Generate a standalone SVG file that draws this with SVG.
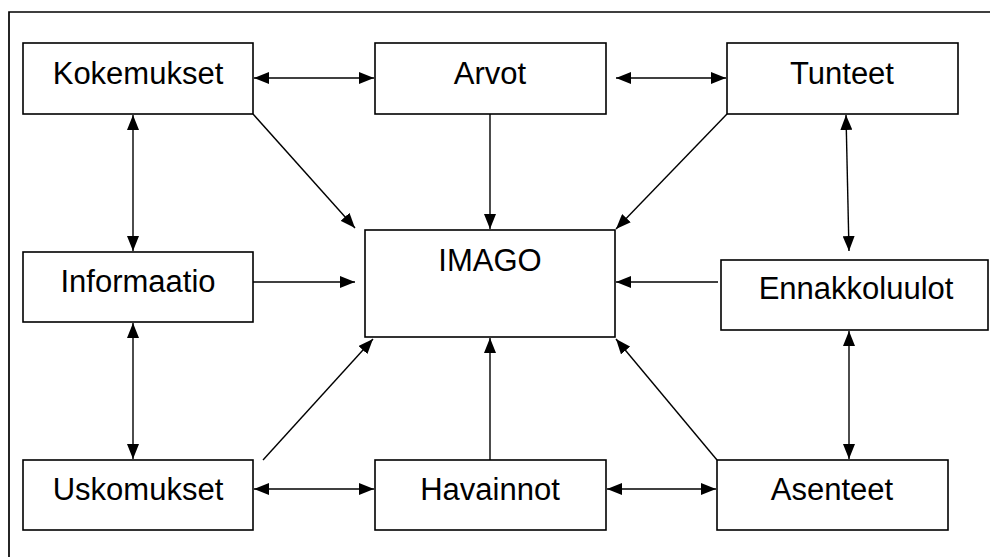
<svg xmlns="http://www.w3.org/2000/svg" width="990" height="557" viewBox="0 0 990 557">
<defs>
<marker id="ah" viewBox="0 0 15 12" refX="15" refY="6" markerWidth="15" markerHeight="12" markerUnits="userSpaceOnUse" orient="auto-start-reverse">
<path d="M0,0 L15,6 L0,12 Z" fill="#000"/>
</marker>
</defs>
<style>
.box{fill:#fff;stroke:#000;stroke-width:1.6}
.lbl{font-family:"Liberation Sans",Arial,sans-serif;font-size:31px;fill:#000;text-anchor:middle}
.c{stroke:#000;stroke-width:1.4;fill:none}
.one{marker-end:url(#ah)}
.two{marker-start:url(#ah);marker-end:url(#ah)}
</style>
<rect width="990" height="557" fill="#fff"/>
<path d="M9,557 L9,12 L990,12" fill="none" stroke="#000" stroke-width="1.7"/>
<g id="connectors">
<line class="c two" x1="254" y1="78" x2="374" y2="78"/>
<line class="c two" x1="616" y1="78" x2="726" y2="78"/>
<line class="c two" x1="133" y1="115" x2="133" y2="251"/>
<line class="c two" x1="133" y1="323" x2="133" y2="459"/>
<line class="c two" x1="846" y1="115" x2="849" y2="251"/>
<line class="c two" x1="849" y1="331" x2="849" y2="459"/>
<line class="c two" x1="254" y1="489" x2="374" y2="489"/>
<line class="c two" x1="607" y1="489" x2="716" y2="489"/>
<line class="c one" x1="253" y1="114" x2="355" y2="228"/>
<line class="c one" x1="490" y1="114" x2="490" y2="229"/>
<line class="c one" x1="727" y1="114" x2="616" y2="229"/>
<line class="c one" x1="253" y1="282" x2="355" y2="282"/>
<line class="c one" x1="718" y1="282" x2="616" y2="282"/>
<line class="c one" x1="263" y1="460" x2="373" y2="339"/>
<line class="c one" x1="490" y1="460" x2="490" y2="338"/>
<line class="c one" x1="717" y1="460" x2="616" y2="339"/>
</g>
<g id="kokemukset"><rect class="box" x="23" y="43" width="230" height="71"/><text class="lbl" x="138" y="84">Kokemukset</text></g>
<g id="arvot"><rect class="box" x="375" y="43" width="231" height="71"/><text class="lbl" x="490" y="84">Arvot</text></g>
<g id="tunteet"><rect class="box" x="727" y="43" width="231" height="71"/><text class="lbl" x="842" y="84">Tunteet</text></g>
<g id="informaatio"><rect class="box" x="23" y="252" width="230" height="70"/><text class="lbl" x="138" y="292">Informaatio</text></g>
<g id="imago"><rect class="box" x="365" y="230" width="250" height="107"/><text class="lbl" x="490" y="271">IMAGO</text></g>
<g id="ennakkoluulot"><rect class="box" x="721" y="260" width="267" height="70"/><text class="lbl" x="856" y="299">Ennakkoluulot</text></g>
<g id="uskomukset"><rect class="box" x="23" y="460" width="230" height="70"/><text class="lbl" x="138" y="500">Uskomukset</text></g>
<g id="havainnot"><rect class="box" x="375" y="460" width="231" height="70"/><text class="lbl" x="490" y="500">Havainnot</text></g>
<g id="asenteet"><rect class="box" x="717" y="460" width="231" height="70"/><text class="lbl" x="832" y="500">Asenteet</text></g>
</svg>
